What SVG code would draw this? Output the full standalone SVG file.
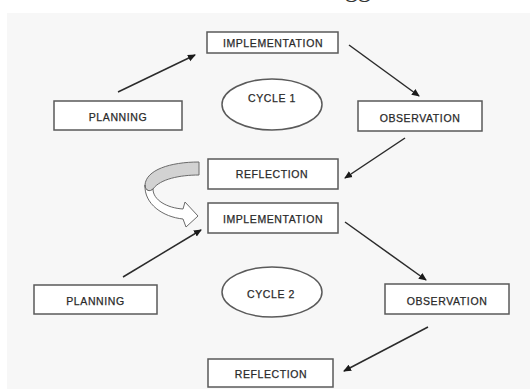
<svg xmlns="http://www.w3.org/2000/svg" width="530" height="389" viewBox="0 0 530 389">
<style>
.box{fill:#ffffff;stroke:#5a5a5a;stroke-width:1.5}
.lbl{font-family:"Liberation Sans",Arial,sans-serif;font-size:10.5px;letter-spacing:0.6px;fill:#2a2a2a;stroke:#2a2a2a;stroke-width:0.25;text-anchor:middle}
.conn{stroke:#2b2b2b;stroke-width:1.5;fill:none;marker-end:url(#ah)}
</style>
<defs>
<marker id="ah" markerWidth="8" markerHeight="8" refX="7" refY="4" orient="auto" markerUnits="userSpaceOnUse">
<path d="M0,0.5 L8,4 L0,7.5 Z" fill="#1a1a1a"/>
</marker>
</defs>
<rect x="0" y="0" width="530" height="389" fill="#ffffff"/>
<rect x="7" y="13" width="523" height="376" fill="#f7f7f7"/>
<text x="358" y="-3" font-family="Liberation Serif,serif" font-size="26" fill="#333" text-anchor="middle">gg</text>

<g id="connectors">
<line class="conn" x1="118" y1="92" x2="195" y2="55"/>
<line class="conn" x1="349" y1="45" x2="419" y2="96"/>
<line class="conn" x1="405" y1="138" x2="345" y2="178"/>
<line class="conn" x1="123" y1="277" x2="201" y2="230"/>
<line class="conn" x1="345" y1="222" x2="426" y2="280"/>
<line class="conn" x1="428" y1="327" x2="344" y2="371"/>
<g id="loop-arrow" stroke="#6a6a6a" stroke-width="1">
<path d="M199,162 L199,175 C180,175 160,179 153,189 C150,192 145,191 145,185 C146,170 170,162 199,162 Z" fill="#d2d2d2"/>
<path d="M145,185 C144,204 163,217 183,219 L186,227 L198,216 L185,202 L183,209 C167,208 153,200 153,189 C150,192 145,191 145,185 Z" fill="#ffffff"/>
</g>
</g>

<g id="impl1"><rect class="box" x="207" y="32" width="131" height="21"/><text class="lbl" x="273" y="46.5">IMPLEMENTATION</text></g>
<g id="plan1"><rect class="box" x="54" y="101" width="128" height="29"/><text class="lbl" x="118" y="121">PLANNING</text></g>
<g id="cycle1"><ellipse cx="272" cy="104.5" rx="50" ry="25.5" fill="#ffffff" stroke="#5a5a5a" stroke-width="1.5"/><text class="lbl" x="272" y="102">CYCLE 1</text></g>
<g id="obs1"><rect class="box" x="358" y="101" width="124" height="30"/><text class="lbl" x="420" y="121.5">OBSERVATION</text></g>
<g id="refl1"><rect class="box" x="208" y="159" width="130" height="30"/><text class="lbl" x="272" y="178">REFLECTION</text></g>
<g id="impl2"><rect class="box" x="208" y="203" width="130" height="30"/><text class="lbl" x="273" y="223">IMPLEMENTATION</text></g>
<g id="plan2"><rect class="box" x="34" y="285" width="123" height="29"/><text class="lbl" x="95.5" y="305">PLANNING</text></g>
<g id="cycle2"><ellipse cx="272" cy="292" rx="50" ry="25" fill="#ffffff" stroke="#5a5a5a" stroke-width="1.5"/><text class="lbl" x="271" y="297.5">CYCLE 2</text></g>
<g id="obs2"><rect class="box" x="385" y="284" width="124" height="30"/><text class="lbl" x="447" y="305">OBSERVATION</text></g>
<g id="refl2"><rect class="box" x="208" y="359" width="125" height="28"/><text class="lbl" x="271" y="378">REFLECTION</text></g>
</svg>
